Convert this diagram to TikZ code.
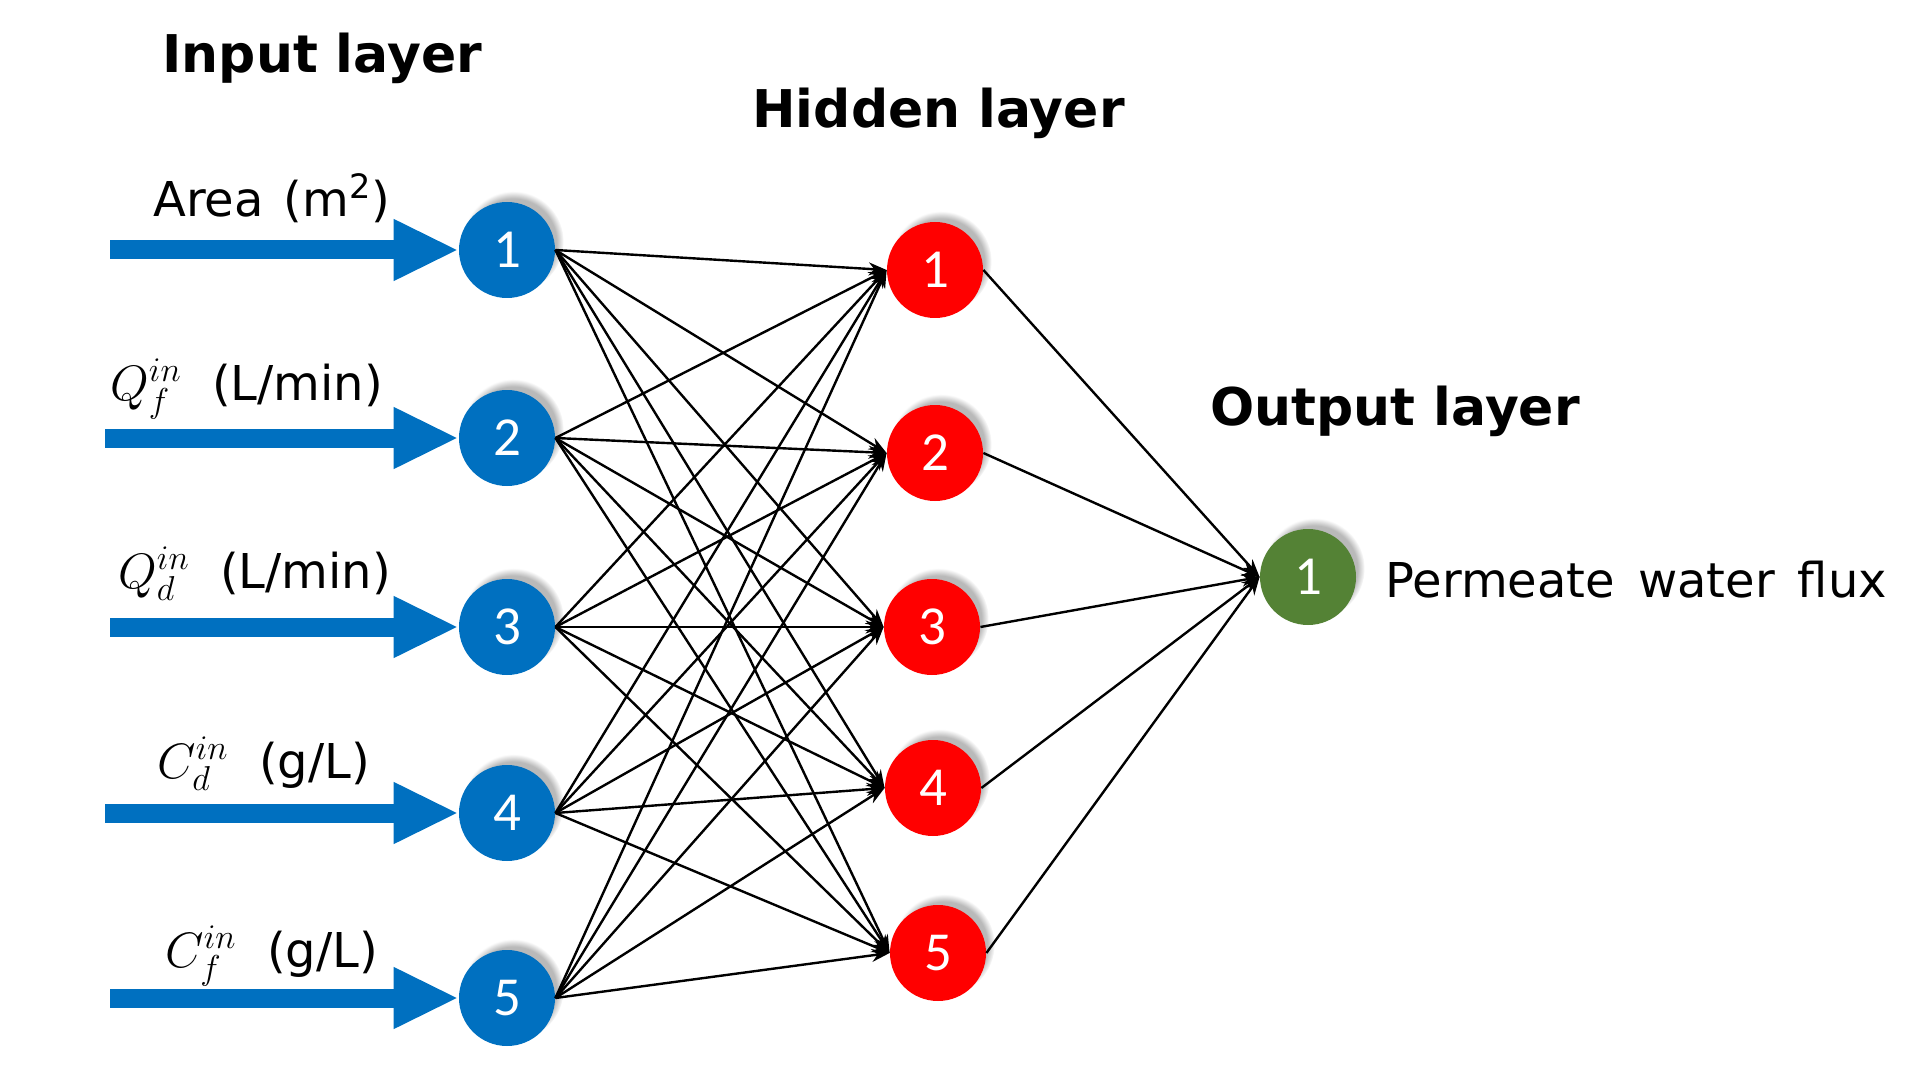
\documentclass[tikz,border=0pt]{standalone}
\usepackage{fontspec}
\setmainfont{DejaVu Sans}
\newfontfamily\numfont{Carlito}
\usetikzlibrary{arrows.meta,shadows}
\definecolor{inblue}{HTML}{0070C0}
\definecolor{hidred}{HTML}{FF0000}
\definecolor{outgreen}{HTML}{548235}
\begin{document}
\begin{tikzpicture}[x=0.5pt,y=-0.5pt,
  neuron/.style={circle, minimum size=48pt, inner sep=0pt, text=white,
    font=\numfont\fontsize{27.5pt}{30pt}\selectfont,
    circular drop shadow={shadow xshift=3pt, shadow yshift=4pt, shadow scale=1.05, opacity=0.55}},
  inn/.style={neuron, fill=inblue},
  hid/.style={neuron, fill=hidred},
  outn/.style={neuron, fill=outgreen},
  feed/.style={line width=9.5pt, draw=inblue, -{Triangle[length=32.5pt,width=28.5pt]}},
  conn/.style={line width=1.2pt, draw=black, -{Stealth[length=9pt,width=6.5pt]}},
  lbl/.style={anchor=base west, inner sep=0pt, font=\fontsize{24pt}{28pt}\selectfont},
  ttl/.style={anchor=base west, inner sep=0pt, font=\bfseries\fontsize{26pt}{30pt}\selectfont}
]
\path[use as bounding box] (0,0) rectangle (1917,1075);

% titles
\node[ttl] (tin) at (162,73) {Input layer};
\node[ttl] (thid) at (752,128) {Hidden layer};
\node[ttl] (tout) at (1210,425) {Output layer};

% input neurons
\node[inn] (i1) at (507,250) {1};
\node[inn] (i2) at (507,438) {2};
\node[inn] (i3) at (507,627) {3};
\node[inn] (i4) at (507,813) {4};
\node[inn] (i5) at (507,998) {5};

% hidden neurons
\node[hid] (h1) at (935,270) {1};
\node[hid] (h2) at (935,453) {2};
\node[hid] (h3) at (932,627) {3};
\node[hid] (h4) at (933,788) {4};
\node[hid] (h5) at (938,953) {5};

% output neuron
\node[outn] (o1) at (1308,577) {1};

% input labels
\node[lbl] (l1) at (153,217) {Area\hspace{10pt}(m\textsuperscript{2})};
\node[lbl] (l2) at (110,400) {$Q_f^{in}$\ \ (L/min)};
\node[lbl] (l3) at (118,588) {$Q_d^{in}$\ \ (L/min)};
\node[lbl] (l4) at (157,778) {$C_d^{in}$\ \ (g/L)};
\node[lbl] (l5) at (165,967) {$C_f^{in}$\ \ (g/L)};
\node[lbl] (lo) at (1385,597) {Permeate\hspace{11.5pt}water\hspace{11.5pt}flux};

% feed arrows
\coordinate (a1) at (110,250);
\coordinate (a2) at (105,438);
\coordinate (a3) at (110,627);
\coordinate (a4) at (105,813);
\coordinate (a5) at (110,998);
\foreach \k in {1,...,5} \draw[feed] (a\k) -- (i\k.west);

% connections
\foreach \a in {1,...,5}
  \foreach \b in {1,...,5}
    \draw[conn] (i\a.east) -- (h\b.west);
\foreach \b in {1,...,5}
  \draw[conn] (h\b.east) -- (o1.west);
\end{tikzpicture}
\end{document}
